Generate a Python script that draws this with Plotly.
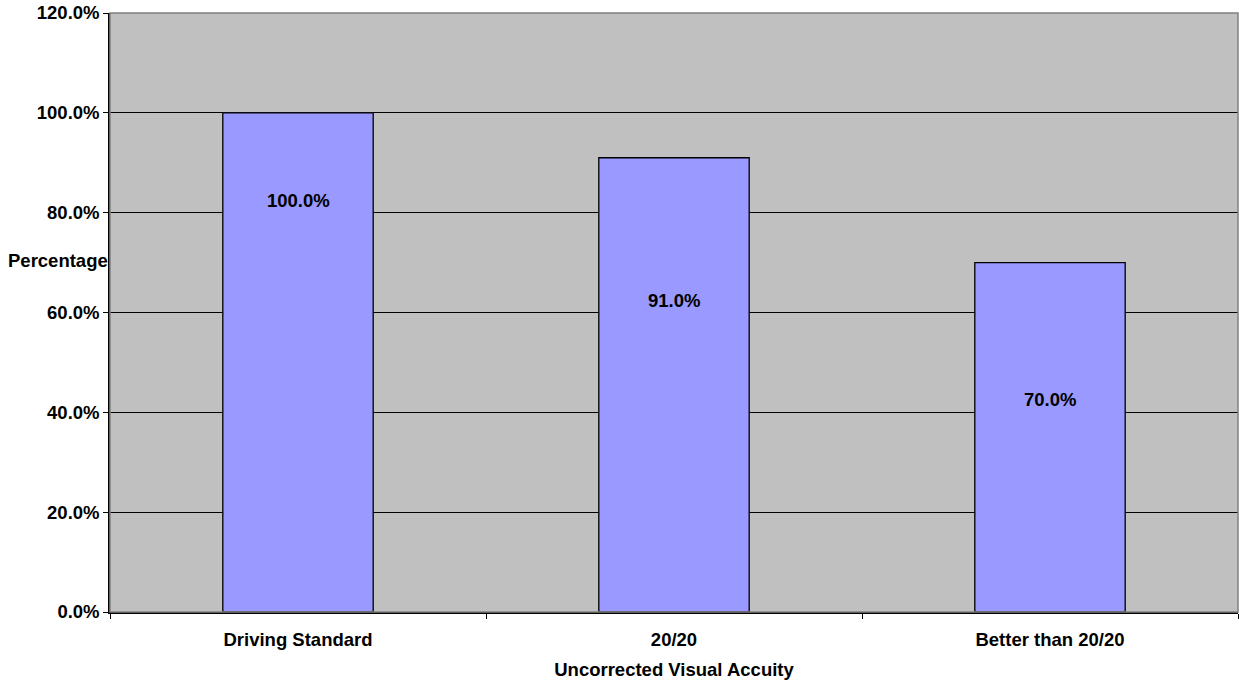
import plotly.graph_objects as go

# Share of subjects meeting each uncorrected visual acuity level
categories = ["Driving Standard", "20/20", "Better than 20/20"]
percentages = [100.0, 91.0, 70.0]
label_heights = [82.5, 62.5, 42.5]  # vertical placement of the value labels
y_ticks = [0, 20, 40, 60, 80, 100, 120]

FONT = "Liberation Sans, Arial, sans-serif"
fs = 18.5

fig = go.Figure()
fig.add_trace(go.Bar(
    x=categories,
    y=percentages,
    marker=dict(color="#9999FF", line=dict(color="#000000", width=1.3)),
    hoverinfo="skip",
))

for cat, val, ly in zip(categories, percentages, label_heights):
    fig.add_annotation(
        x=cat, y=ly, xref="x", yref="y",
        text=f"<b>{val:.1f}%</b>", showarrow=False,
        font=dict(family=FONT, size=fs, color="#000000"),
    )

# y-axis caption placed horizontally left of the plot area
fig.add_annotation(
    x=0, y=(612 - 260) / 599, xref="paper", yref="paper",
    xanchor="right", yanchor="middle", xshift=0,
    text="<b>Percentage</b>", showarrow=False,
    font=dict(family=FONT, size=fs, color="#000000"),
)

# plot-area border (grey on top and right)
fig.add_shape(type="rect", xref="paper", yref="paper", x0=0, x1=1, y0=0, y1=1,
              line=dict(color="#808080", width=1.5), layer="above")

fig.update_layout(
    width=1239, height=685,
    margin=dict(l=110, r=1, t=13, b=73),
    paper_bgcolor="#FFFFFF",
    plot_bgcolor="#C0C0C0",
    bargap=0.6,
    showlegend=False,
    font=dict(family=FONT, size=fs, color="#000000"),
    xaxis=dict(
        type="category",
        tickson="boundaries",
        ticks="outside", ticklen=5, tickcolor="#000000", tickwidth=1,
        showgrid=False,
        showline=True, linecolor="#000000", linewidth=1.5,
        tickfont=dict(family=FONT, size=fs, color="#000000", weight="bold"),
        ticklabelstandoff=10,
        title=dict(text="<b>Uncorrected Visual Accuity</b>", standoff=14,
                   font=dict(family=FONT, size=fs, color="#000000")),
        automargin=False,
    ),
    yaxis=dict(
        range=[0, 120],
        tickvals=y_ticks,
        ticktext=[f"{v:.1f}%" for v in y_ticks],
        ticks="outside", ticklen=5, tickcolor="#000000", tickwidth=1,
        showgrid=True, gridcolor="#000000", gridwidth=1,
        zeroline=False,
        showline=True, linecolor="#000000", linewidth=1.5,
        tickfont=dict(family=FONT, size=fs, color="#000000", weight="bold"),
        ticklabelstandoff=0,
        automargin=False,
    ),
)

fig.write_html("out.html")
